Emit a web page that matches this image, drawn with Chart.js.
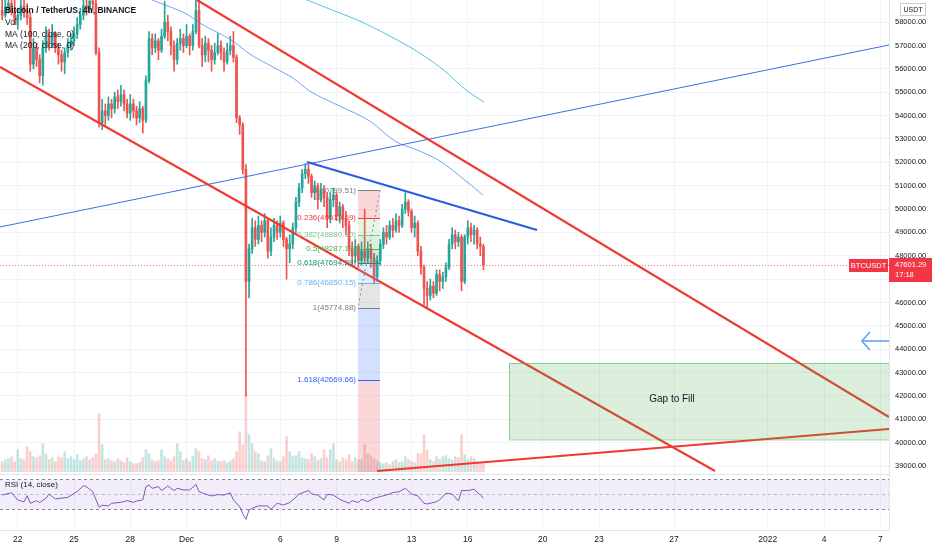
<!DOCTYPE html>
<html><head><meta charset="utf-8">
<script src="https://cdn.jsdelivr.net/npm/chart.js@4.4.1/dist/chart.umd.min.js"></script>
<style>html,body{margin:0;padding:0;background:#fff;overflow:hidden}</style>
</head><body>
<canvas id="c" width="932" height="550" style="display:block;width:932px;height:550px"></canvas>
<script>
// ---------- DATA ----------
const firstBarDay = 21 + 1/6;   // Nov 21 04:00 (day-of-Nov numbering, Dec 1 = 31)
const barStep = 1/6;            // 4h bars
const firstOpen = 58500;
const closes = [58300,58650,58800,58450,58100,58300,58700,58500,58200,56200,
56900,56400,55700,56900,57400,57100,57500,56900,56600,56300,
56700,57000,57200,57500,57900,58300,58700,58600,58900,58800,
56700,53700,54200,54000,54500,54300,54800,54600,54900,54500,
54100,54500,54200,53900,54300,53800,55500,57300,56900,57200,
56800,57400,58000,57600,57000,56400,57100,57300,57000,57400,
57000,57600,58500,57000,56600,57100,56800,56400,56700,57000,
56700,56300,56800,57000,56500,53900,53600,51700,46900,48300,
49200,48700,49300,49000,49500,48200,48800,49300,49000,49400,
48700,48300,48500,49200,50300,50900,51500,51700,51400,50700,
51000,50400,50800,50500,49600,50400,50600,49700,50100,49600,
49300,48300,48000,48400,47800,48200,47900,48300,47900,47100,
47800,48500,49000,48800,49300,49100,49500,49300,50000,50300,
49900,49200,49400,48200,47500,46600,46300,46700,46400,47200,
46900,47100,47500,48500,48900,48600,48800,46900,48800,49200,
48900,49100,48500,48400,47601.29];
const highs = [59200,58950,59300,59000,59200,58600,59100,59000,58800,58400,
57300,57100,56600,57200,57800,57700,57900,57600,57100,56800,
56900,57300,57500,57800,58200,58600,59100,59200,59300,59400,
59100,56900,54700,54500,54800,54700,55000,55100,55300,55100,
54700,54900,54700,54400,54600,54400,55700,57600,57500,57500,
57300,57700,58900,58300,57800,57200,57300,57700,57500,57900,
57500,57900,58950,59300,57300,57400,57300,57000,57100,57500,
57200,56900,57100,57400,57600,56600,54000,53700,51900,48500,
49600,49500,49700,49500,49800,49600,49200,49600,49500,49700,
49500,48800,48900,49400,50500,51100,51700,51936,51900,51500,
51200,51100,51100,51000,50700,50700,50900,50700,50300,50200,
49900,49500,48600,48700,48500,48600,50000,48600,48500,48100,
48000,48700,49200,49300,49500,49600,49800,49700,50200,50700,
50400,50000,49700,49500,48400,47600,46900,47000,46900,47400,
47400,47300,47700,48700,49200,49100,49000,48900,48900,49500,
49400,49300,49200,48800,48500];
const lows = [58100,58200,58400,58300,57900,57700,58100,58200,57900,55900,
56000,56100,55400,55300,56700,56800,56900,56700,56200,55900,
55800,56500,56800,57000,57300,57700,58100,58300,58400,58500,
56600,53500,53400,53600,53800,53900,54100,54300,54400,54200,
53900,53800,53900,53600,53700,53250,53700,55400,56600,56700,
56400,56700,57300,57200,56600,55900,56200,56800,56700,56900,
56600,56800,57500,56900,56100,56300,56300,55900,56200,56600,
56400,55900,56200,56600,56300,53700,53200,51500,42000,46200,
48100,48400,48500,48600,48800,47900,48000,48600,48700,48800,
48400,47000,47700,48300,49000,50100,50700,51300,51100,50500,
50400,50000,50300,50100,49200,49400,50100,49500,49400,49200,
48900,48000,47600,47700,47500,47600,47700,47700,47500,46800,
46900,47600,48300,48500,48700,48800,49000,49000,49200,49800,
49700,49000,48800,48000,47200,45900,45800,46100,46200,46300,
46500,46600,46900,47400,48300,48300,48400,46500,46800,48500,
48600,48500,48300,48000,47400];
const volumes = [10,12,13,15,10,22,13,12,25,20,
15,14,16,28,18,12,14,10,15,14,
20,13,15,12,17,11,13,15,12,14,
18,58,27,12,13,11,10,13,11,9,
14,10,8,8,9,14,22,18,12,10,
11,22,15,13,11,15,28,20,11,13,
10,15,23,20,13,12,16,11,13,11,
10,11,9,11,13,20,40,27,77,37,
28,20,18,11,10,16,23,13,11,10,
15,35,20,15,16,20,14,13,12,18,
15,11,13,22,14,22,28,12,10,14,
12,17,10,14,12,12,27,18,16,13,
11,9,8,9,7,10,12,9,10,15,
12,10,9,18,18,37,22,12,10,15,
12,15,16,13,12,15,14,37,17,12,
15,13,10,9,8];
const ma100Days = [28.94,29.74,31.02,31.72,33.48,34.38,35.82,36.68,37.58,39.18,40.78,42.12,43.45,44.52,45.58,46.81];
const ma100Vals = [59027,58770,58342,57957,57187,56631,55989,55604,55047,54406,53764,52908,52480,52052,51410,50597];
const ma200Days = [37.32,38.65,40.25,41.85,43.45,44.78,45.85,46.86];
const ma200Vals = [58984,58556,58043,57401,56673,55903,55133,54577];
const rsiBars = [0,3,5,7,8,9,11,12,14,15,17,21,23,24,26,27,29,31,32,34,35,38,40,42,43,45,46,47,48,50,51,53,55,56,58,60,62,63,65,67,69,71,73,74,76,77,78,79,80,82,85,86,88,90,92,94,95,98,99,101,103,104,106,108,111,112,114,115,117,119,121,124,125,127,129,131,133,135,136,139,140,142,144,146,147,149,151,153,154];
const rsiVals = [49,52,42.5,40,48,38,41.5,39,44.7,50.4,43.8,46,51.3,53.5,61.5,60,53.5,32.7,35.3,34.5,38,39.3,41.5,39.3,41,42.5,60.2,62.4,58,60.2,55,61,55,58,55.8,55.8,63.3,53.5,50.4,47.8,49.6,49,52,42.5,33.6,24,16.7,29,31.3,34.5,34.5,30,38,35.8,39,46,50.4,55,50.4,49,42.5,50,49,43.3,38,41.5,39,43.3,40.2,44.7,46.9,50.4,52.2,53.5,58,50.4,47.8,38,37.1,40.2,42.5,51.3,50.4,41,55,55,56.7,49,45];
// drawings (day, price)
const chanTopDays = [31.557, 68.464], chanTopPrices = [58949, 41098];
const chanBotDays = [21.051, 59.184], chanBotPrices = [56081, 38787];
const supportDays = [41.157, 68.464], supportPrices = [38787, 40585];
const thinBlueDays = [21.051, 68.464], thinBluePrices = [49232, 57023];
const thickBlueDays = [37.424, 49.691], thickBluePrices = [52014, 49104];
const arrowDays = [67.445, 67.019, 67.445], arrowPrices = [44737, 44352, 43967];
const arrowShaftDays = [67.019, 68.464], arrowShaftPrices = [44352, 44352];
const fibLevels = [0, 0.236, 0.382, 0.5, 0.618, 0.786, 1, 1.618, 2.618];
const fibPrices = [50799.51, 49613.69, 48880.10, 48287.19, 47694.29, 46850.15, 45774.88, 42669.66, 37645.07];
const fibDays = [40.144, 41.317];
const gapDays = [48.197, 68.6], gapPrices = [43420, 40150];
const gapLabelDay = 56.89, gapLabelPrice = 41869, gapLabel = 'Gap to Fill';
const lastPrice = 47601.29, countdown = '17:18', symbol = 'BTCUSDT';
const priceTicks = [39000,40000,41000,42000,43000,44000,45000,46000,47000,48000,49000,50000,51000,52000,53000,54000,55000,56000,57000,58000];
const rsiTicks = [40];
const timeTickDays = [22,25,28,31,36,39,43,46,50,53,57,62,65,68];
const timeTickLabels = ['22','25','28','Dec','6','9','13','16','20','23','27','2022','4','7'];
const legendLines = ['Bitcoin / TetherUS, 4h, BINANCE','Vol','MA (100, close, 0)','MA (200, close, 0)'];

// ---------- STYLE ----------
const FONT = "'Liberation Sans', Arial, sans-serif";
const UP = '#26a69a', DN = '#ef5350';
const UPV = 'rgba(38,166,154,0.28)', DNV = 'rgba(239,83,80,0.28)';
const TL_RED = '#ef3a2d';
const fibColors = ['#787b86','#f23645','#81c784','#4caf50','#089981','#64b5f6','#787b86','#2962ff','#f23645'];
const PANE_SEP = 474.5;

const barDays = closes.map((c,i)=> firstBarDay + i*barStep);
const opens = closes.map((c,i)=> i===0 ? firstOpen : closes[i-1]);
const isUp = closes.map((c,i)=> c >= opens[i]);
const pts = (ds, vs) => ds.map((d,i)=>({x:d, y:vs[i]}));
const lineDs = (ds, vs, color, w, order, extra) => Object.assign({type:'line', data:pts(ds,vs), borderColor:color, borderWidth:w, pointRadius:0, fill:false, yAxisID:'y', order}, extra||{});
const noPad = s => { s.paddingTop = 0; s.paddingBottom = 0; s.paddingLeft = 0; s.paddingRight = 0; };

const drawings = {
  id:'drawings',
  beforeDraw(chart){ const c=chart.ctx; c.save(); c.fillStyle='#fff'; c.fillRect(0,0,chart.width,chart.height); c.restore(); },
  beforeDatasetsDraw(chart){
    const {ctx, chartArea:a} = chart; const r = chart.scales.rsi;
    ctx.save();
    ctx.strokeStyle='#e0e3eb'; ctx.lineWidth=1;
    ctx.beginPath(); ctx.moveTo(a.left,PANE_SEP); ctx.lineTo(a.right,PANE_SEP); ctx.stroke();
    const y70=r.getPixelForValue(70), y50=r.getPixelForValue(50), y30=r.getPixelForValue(30);
    ctx.fillStyle='rgba(126,87,194,0.1)'; ctx.fillRect(a.left,y70,a.right-a.left,y30-y70);
    ctx.setLineDash([3,3]); ctx.strokeStyle='#787b86';
    [[y70,0.9],[y50,0.45],[y30,0.9]].forEach(([y,al])=>{ctx.globalAlpha=al; ctx.beginPath(); ctx.moveTo(a.left,Math.round(y)+0.5); ctx.lineTo(a.right,Math.round(y)+0.5); ctx.stroke();});
    ctx.restore();
  },
  afterDatasetsDraw(chart){
    const {ctx, chartArea:a} = chart; const X=chart.scales.x, Y=chart.scales.y;
    ctx.save();
    ctx.beginPath(); ctx.rect(a.left,a.top,a.right-a.left,a.bottom-a.top); ctx.clip();
    const yl = Y.getPixelForValue(lastPrice);
    ctx.strokeStyle='rgba(242,54,69,0.7)'; ctx.setLineDash([1,2]); ctx.lineWidth=1;
    ctx.beginPath(); ctx.moveTo(a.left,Math.round(yl)+0.5); ctx.lineTo(a.right,Math.round(yl)+0.5); ctx.stroke();
    ctx.setLineDash([]);
    const gx0=X.getPixelForValue(gapDays[0]), gx1=X.getPixelForValue(gapDays[1]);
    const gy0=Y.getPixelForValue(gapPrices[0]), gy1=Y.getPixelForValue(gapPrices[1]);
    ctx.fillStyle='rgba(76,175,80,0.2)'; ctx.fillRect(gx0,gy0,gx1-gx0,gy1-gy0);
    ctx.strokeStyle='rgba(76,175,80,0.55)'; ctx.strokeRect(Math.round(gx0)+0.5,Math.round(gy0)+0.5,gx1-gx0,gy1-gy0);
    ctx.fillStyle='#131722'; ctx.font='10px '+FONT; ctx.textAlign='center'; ctx.textBaseline='middle';
    ctx.fillText(gapLabel, X.getPixelForValue(gapLabelDay), Y.getPixelForValue(gapLabelPrice));
    const fx0=X.getPixelForValue(fibDays[0]), fx1=X.getPixelForValue(fibDays[1]);
    for(let k=0;k<fibPrices.length-1;k++){
      const y0=Y.getPixelForValue(fibPrices[k]); const y1=Math.min(Y.getPixelForValue(fibPrices[k+1]), PANE_SEP-2.5);
      ctx.globalAlpha=0.2; ctx.fillStyle=fibColors[k+1]; ctx.fillRect(fx0,y0,fx1-fx0,y1-y0);
    }
    ctx.globalAlpha=1;
    ctx.font='8px '+FONT; ctx.textAlign='right'; ctx.textBaseline='middle';
    for(let k=0;k<fibPrices.length;k++){
      const y=Y.getPixelForValue(fibPrices[k]); if(y>PANE_SEP-3) continue;
      ctx.strokeStyle=fibColors[k]; ctx.lineWidth=1;
      ctx.beginPath(); ctx.moveTo(fx0,Math.round(y)+0.5); ctx.lineTo(fx1,Math.round(y)+0.5); ctx.stroke();
      ctx.fillStyle=fibColors[k];
      ctx.fillText(fibLevels[k]+'('+fibPrices[k].toFixed(2)+')', fx0-2, y);
    }
    ctx.strokeStyle='rgba(120,123,134,0.9)'; ctx.setLineDash([2,3]);
    ctx.beginPath(); ctx.moveTo(fx1,Y.getPixelForValue(fibPrices[0])); ctx.lineTo(fx0,Y.getPixelForValue(fibPrices[6])); ctx.stroke();
    ctx.setLineDash([]);
    ctx.restore();
    ctx.save();
    ctx.fillStyle='#131722'; ctx.textAlign='left'; ctx.textBaseline='middle';
    const ly=[11,23,34.5,46];
    legendLines.forEach((t,i)=>{ ctx.font=(i===0?'600 ':'')+'8.5px '+FONT; ctx.fillText(t,5,ly[i]); });
    ctx.font='8px '+FONT; ctx.fillText('RSI (14, close)',5,485);
    ctx.restore();
  },
  afterDraw(chart){
    const {ctx, chartArea:a} = chart; const Y=chart.scales.y;
    const yl = Y.getPixelForValue(lastPrice);
    ctx.save();
    ctx.fillStyle='#f23645';
    ctx.fillRect(a.right, Math.round(yl)-7, chart.width-a.right, 24);
    ctx.fillRect(a.right-40, Math.round(yl)-6, 39, 13);
    ctx.fillStyle='#fff'; ctx.font='7.5px '+FONT; ctx.textBaseline='middle'; ctx.textAlign='left';
    ctx.fillText(lastPrice.toFixed(2), a.right+6, Math.round(yl));
    ctx.fillText(countdown, a.right+6, Math.round(yl)+10);
    ctx.textAlign='center'; ctx.fillText(symbol, a.right-20.5, Math.round(yl)+0.5);
    ctx.strokeStyle='#c9ccd4'; ctx.lineWidth=1; ctx.fillStyle='#fff';
    ctx.fillRect(900.5,3.5,25,12); ctx.strokeRect(900.5,3.5,25,12);
    ctx.fillStyle='#131722'; ctx.font='7px '+FONT; ctx.fillText('USDT',913,9.8);
    ctx.restore();
  }
};

new Chart(document.getElementById('c'), {
  type:'bar',
  data:{ datasets:[
    {type:'bar', data:barDays.map((d,i)=>({x:d,y:volumes[i]})), backgroundColor:isUp.map(u=>u?UPV:DNV), barThickness:2, grouped:false, yAxisID:'vol', order:20},
    {type:'bar', data:barDays.map((d,i)=>({x:d,y:[lows[i],highs[i]]})), backgroundColor:isUp.map(u=>u?UP:DN), barThickness:1, grouped:false, yAxisID:'y', order:19},
    {type:'bar', data:barDays.map((d,i)=>({x:d,y:[opens[i],closes[i]]})), backgroundColor:isUp.map(u=>u?UP:DN), barThickness:2, minBarLength:1, grouped:false, yAxisID:'y', order:18},
    lineDs(ma100Days, ma100Vals, 'rgba(66,133,244,0.75)', 1, 15, {cubicInterpolationMode:'monotone'}),
    lineDs(ma200Days, ma200Vals, 'rgba(38,182,210,0.8)', 1, 14, {cubicInterpolationMode:'monotone'}),
    lineDs(thinBlueDays, thinBluePrices, '#3d6fe0', 1, 12),
    lineDs(chanTopDays, chanTopPrices, TL_RED, 2.2, 11),
    lineDs(chanBotDays, chanBotPrices, TL_RED, 2.2, 10),
    lineDs(supportDays, supportPrices, TL_RED, 2.2, 9),
    lineDs(thickBlueDays, thickBluePrices, '#2a5ee0', 2.2, 8),
    lineDs(arrowDays, arrowPrices, '#5b9cf6', 1.5, 7),
    lineDs(arrowShaftDays, arrowShaftPrices, '#5b9cf6', 1.5, 7),
    {type:'line', data:rsiBars.map((b,i)=>({x:firstBarDay+b*barStep, y:rsiVals[i]})), borderColor:'#7e57c2', borderWidth:1, pointRadius:0, fill:false, yAxisID:'rsi', order:5}
  ]},
  options:{
    responsive:false, animation:false, devicePixelRatio:1,
    layout:{padding:0},
    plugins:{legend:{display:false}, tooltip:{enabled:false}},
    scales:{
      x:{type:'linear', offset:false, min:21.0507, max:68.464, position:'bottom',
        afterBuildTicks:s=>{ s.ticks = timeTickDays.map(v=>({value:v})); },
        ticks:{autoSkip:false, maxRotation:0, padding:5, color:'#131722', font:{size:8.5, family:FONT}, callback:(v,i)=>timeTickLabels[i]},
        grid:{color:'#f0f3fa', drawTicks:false, offset:false}, border:{display:true, color:'#e0e3eb'},
        afterFit:s=>{ s.height = 20; noPad(s); }},
      rsi:{position:'right', weight:0, min:2.4, max:709.07,
        afterBuildTicks:s=>{ s.ticks = rsiTicks.map(v=>({value:v})); },
        ticks:{padding:6, color:'#131722', font:{size:7.5, family:FONT}, callback:v=>v.toFixed(2)},
        grid:{display:false, drawTicks:false}, border:{display:false},
        afterFit:s=>{ s.width = 0; noPad(s); }},
      y:{position:'right', weight:1, min:36261, max:58949,
        afterBuildTicks:s=>{ s.ticks = priceTicks.map(v=>({value:v})); },
        ticks:{padding:6, color:'#131722', font:{size:7.5, family:FONT}, callback:v=>v.toFixed(2)},
        grid:{color:'#f0f3fa', drawTicks:false}, border:{display:true, color:'#e0e3eb'},
        afterFit:s=>{ s.width = 43; noPad(s); }},
      vol:{display:false, min:-58.3, max:471.7, afterFit:noPad}
    }
  },
  plugins:[drawings]
});
</script>
</body></html>
